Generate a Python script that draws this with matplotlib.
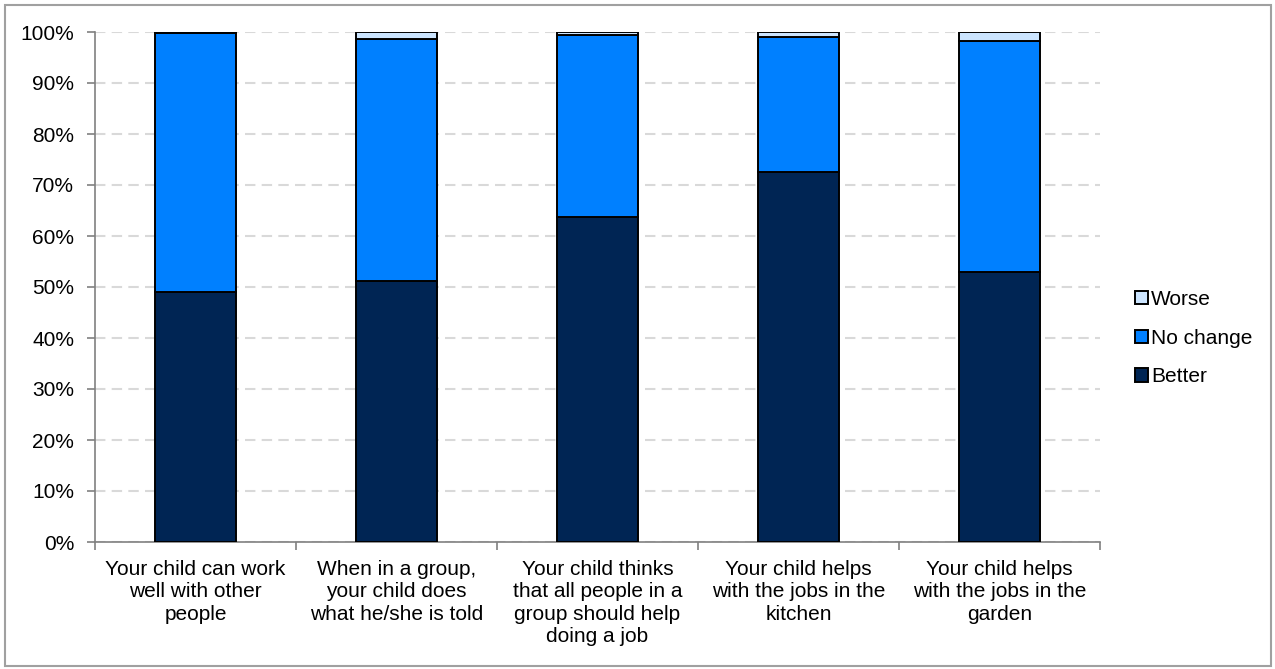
import matplotlib.pyplot as plt
from matplotlib.patches import Rectangle
from matplotlib.ticker import PercentFormatter

plt.rcParams['font.family'] = ['Liberation Sans', 'DejaVu Sans']

# Survey answers, share of parents (%)
categories = [
    "Your child can work\nwell with other\npeople",
    "When in a group,\nyour child does\nwhat he/she is told",
    "Your child thinks\nthat all people in a\ngroup should help\ndoing a job",
    "Your child helps\nwith the jobs in the\nkitchen",
    "Your child helps\nwith the jobs in the\ngarden",
]
better = [49.1, 51.2, 63.8, 72.6, 53.0]
worse = [0.2, 1.4, 0.6, 1.0, 1.8]
no_change = [100 - b - w for b, w in zip(better, worse)]

colors = {"Better": "#002554", "No change": "#0080FF", "Worse": "#CCE5FF"}

fig = plt.figure(figsize=(12.75, 6.69), dpi=100)
ax = fig.add_axes([95 / 1275, 1 - 542 / 669, 1005 / 1275, 510 / 669])

x = range(len(categories))
bar_kw = dict(width=0.4, edgecolor="black", linewidth=1.4, zorder=3)
b1 = ax.bar(x, better, color=colors["Better"], label="Better", **bar_kw)
b2 = ax.bar(x, no_change, bottom=better, color=colors["No change"], label="No change", **bar_kw)
bottoms = [b + n for b, n in zip(better, no_change)]
b3 = ax.bar(x, worse, bottom=bottoms, color=colors["Worse"], label="Worse", **bar_kw)

ax.set_xlim(-0.5, len(categories) - 0.5)
ax.set_ylim(0, 100)
ax.set_yticks(range(0, 101, 10))
ax.yaxis.set_major_formatter(PercentFormatter(decimals=0))
ax.yaxis.grid(True, color="#D9D9D9", linestyle=(0, (5, 3)), linewidth=1.5, zorder=0)

# category labels centred under the bars, tick marks on the boundaries
ax.set_xticks(list(x))
ax.set_xticklabels(categories, fontsize=15, linespacing=1.22)
ax.tick_params(axis="x", length=0, pad=13)
ax.set_xticks([i - 0.5 for i in range(len(categories) + 1)], minor=True)
ax.tick_params(axis="x", which="minor", length=6, color="#808080", width=1.2)
ax.tick_params(axis="y", length=6, color="#808080", width=1.2, labelsize=15, pad=9)

for side in ["top", "right"]:
    ax.spines[side].set_visible(False)
for side in ["left", "bottom"]:
    ax.spines[side].set_color("#808080")
    ax.spines[side].set_linewidth(1.2)

ax.legend(handles=[b3, b2, b1], loc="center left", bbox_to_anchor=(1.027, 0.4),
          frameon=False, fontsize=15, handlelength=0.6, handleheight=0.6,
          handletextpad=0.15, labelspacing=0.95, borderaxespad=0)

# thin frame around the whole chart
fig.patches.append(Rectangle((5 / 1275, 3 / 669), 1266 / 1275, 661 / 669,
                             transform=fig.transFigure, fill=False,
                             edgecolor="#A0A0A0", linewidth=1.5))

fig.savefig("out.png", dpi=100)
